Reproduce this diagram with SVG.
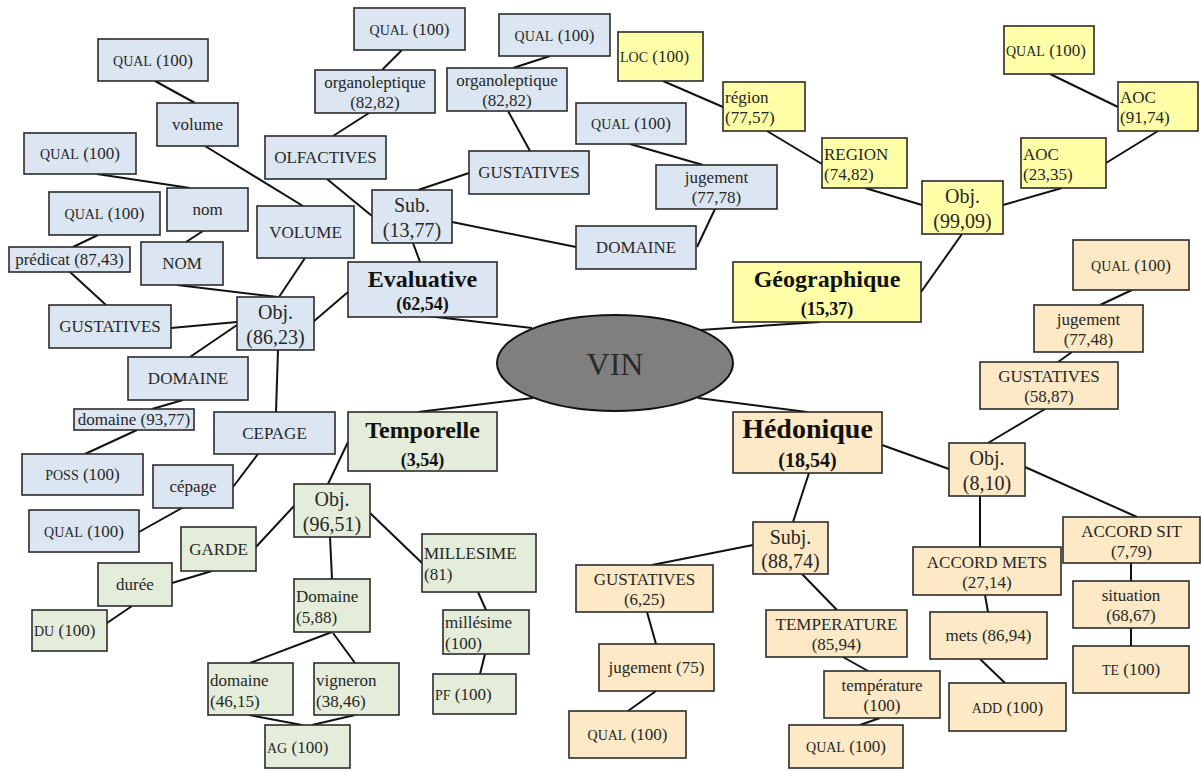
<svg xmlns="http://www.w3.org/2000/svg" width="1201" height="771" viewBox="0 0 1201 771">
<style>
rect{stroke:#2b2b2b;stroke-width:1.6}
.b{fill:#dce6f2}.y{fill:#ffffa8}.g{fill:#e3edda}.o{fill:#fde9c5}
text{font-family:"Liberation Serif","Times New Roman",serif;font-size:17px;fill:#262626}
.c{text-anchor:middle}
.s{font-size:14px}
.m{font-size:20px}
.h{font-weight:bold;font-size:24px;fill:#111}
.hs{font-weight:bold;font-size:18px;fill:#111}
#conn line{stroke:#111;stroke-width:2}
</style>
<rect width="1201" height="771" fill="#ffffff" style="stroke:none"/>
<g id="conn">
<line x1="155" y1="81" x2="195" y2="103"/>
<line x1="205" y1="146" x2="303" y2="206"/>
<line x1="97" y1="174" x2="190" y2="188"/>
<line x1="98" y1="235" x2="73" y2="247"/>
<line x1="203" y1="231" x2="186" y2="242"/>
<line x1="333" y1="136" x2="369" y2="113"/>
<line x1="382" y1="70" x2="402" y2="50"/>
<line x1="327" y1="179" x2="372" y2="216"/>
<line x1="305" y1="258" x2="279" y2="297"/>
<line x1="177" y1="285" x2="278" y2="297"/>
<line x1="313" y1="322" x2="348" y2="292"/>
<line x1="413" y1="243" x2="420" y2="262"/>
<line x1="418" y1="190" x2="469" y2="173"/>
<line x1="452" y1="222" x2="576" y2="247"/>
<line x1="530" y1="151" x2="508" y2="111"/>
<line x1="513" y1="68" x2="550" y2="56"/>
<line x1="630" y1="144" x2="703" y2="165"/>
<line x1="715" y1="209" x2="697" y2="247"/>
<line x1="427" y1="316" x2="532" y2="328"/>
<line x1="700" y1="330" x2="820" y2="322"/>
<line x1="533" y1="398" x2="418" y2="412"/>
<line x1="698" y1="398" x2="807" y2="412"/>
<line x1="921" y1="292" x2="962" y2="234"/>
<line x1="922" y1="205" x2="865" y2="188"/>
<line x1="822" y1="164" x2="767" y2="131"/>
<line x1="723" y1="107" x2="663" y2="81"/>
<line x1="1003" y1="205" x2="1062" y2="188"/>
<line x1="1106" y1="163" x2="1158" y2="131"/>
<line x1="1118" y1="107" x2="1050" y2="74"/>
<line x1="882" y1="445" x2="949" y2="469"/>
<line x1="988" y1="443" x2="1045" y2="409"/>
<line x1="1058" y1="362" x2="1072" y2="352"/>
<line x1="1100" y1="305" x2="1132" y2="290"/>
<line x1="1025" y1="467" x2="1137" y2="517"/>
<line x1="980" y1="496" x2="980" y2="547"/>
<line x1="985" y1="595" x2="988" y2="612"/>
<line x1="980" y1="659" x2="1005" y2="683"/>
<line x1="1131" y1="563" x2="1131" y2="581"/>
<line x1="1131" y1="628" x2="1131" y2="646"/>
<line x1="809" y1="473" x2="793" y2="522"/>
<line x1="753" y1="545" x2="652" y2="565"/>
<line x1="647" y1="612" x2="656" y2="644"/>
<line x1="656" y1="691" x2="628" y2="711"/>
<line x1="802" y1="574" x2="837" y2="610"/>
<line x1="843" y1="657" x2="868" y2="671"/>
<line x1="880" y1="718" x2="860" y2="725"/>
<line x1="348" y1="442" x2="328" y2="484"/>
<line x1="294" y1="506" x2="255" y2="548"/>
<line x1="212" y1="571" x2="172" y2="583"/>
<line x1="132" y1="606" x2="107" y2="623"/>
<line x1="330" y1="537" x2="332" y2="579"/>
<line x1="370" y1="513" x2="422" y2="563"/>
<line x1="478" y1="592" x2="486" y2="610"/>
<line x1="485" y1="654" x2="480" y2="674"/>
<line x1="332" y1="632" x2="250" y2="663"/>
<line x1="333" y1="633" x2="355" y2="663"/>
<line x1="249" y1="715" x2="302" y2="725"/>
<line x1="355" y1="715" x2="312" y2="725"/>
<line x1="171" y1="328" x2="237" y2="322"/>
<line x1="237" y1="325" x2="190" y2="357"/>
<line x1="278" y1="350" x2="276" y2="412"/>
<line x1="70" y1="272" x2="106" y2="305"/>
<line x1="183" y1="400" x2="152" y2="409"/>
<line x1="137" y1="430" x2="85" y2="454"/>
<line x1="258" y1="454" x2="233" y2="487"/>
<line x1="182" y1="508" x2="139" y2="532"/>
</g>
<g id="vin"><ellipse cx="615" cy="363" rx="118" ry="48" fill="#7f7f7f" stroke="#111" stroke-width="2"/><text x="615" y="375" class="c" style="font-size:32px;fill:#2a2a2a">VIN</text></g>
<!-- Evaluative (blue) -->
<g id="b1"><rect class="b" x="98" y="39" width="110" height="42"/><text x="153" y="66" class="c"><tspan class="s">QUAL</tspan> (100)</text></g>
<g id="b2"><rect class="b" x="157" y="103" width="81" height="43"/><text x="197.5" y="130" class="c">volume</text></g>
<g id="b3"><rect class="b" x="24" y="133" width="112" height="41"/><text x="80" y="159" class="c"><tspan class="s">QUAL</tspan> (100)</text></g>
<g id="b4"><rect class="b" x="167" y="188" width="81" height="43"/><text x="207.5" y="215" class="c">nom</text></g>
<g id="b5"><rect class="b" x="49" y="192" width="111" height="43"/><text x="104.5" y="219" class="c"><tspan class="s">QUAL</tspan> (100)</text></g>
<g id="b6"><rect class="b" x="257" y="206" width="97" height="52"/><text x="305.5" y="238" class="c">VOLUME</text></g>
<g id="b7"><rect class="b" x="265" y="136" width="121" height="43"/><text x="325.5" y="163" class="c">OLFACTIVES</text></g>
<g id="b8"><rect class="b" x="315" y="70" width="120" height="43"/><text x="375" y="88" class="c">organoleptique</text><text x="375" y="108" class="c">(82,82)</text></g>
<g id="b9"><rect class="b" x="354" y="8" width="111" height="42"/><text x="409.5" y="35" class="c"><tspan class="s">QUAL</tspan> (100)</text></g>
<g id="b10"><rect class="b" x="372" y="190" width="80" height="53"/><text x="412" y="212" class="c m">Sub.</text><text x="412" y="237" class="c m">(13,77)</text></g>
<g id="b11"><rect class="b" x="348" y="262" width="149" height="55"/><text x="422.5" y="287" class="c h">Evaluative</text><text x="422.5" y="310" class="c hs">(62,54)</text></g>
<g id="b12"><rect class="b" x="237" y="297" width="77" height="53"/><text x="275.5" y="319" class="c m">Obj.</text><text x="275.5" y="344" class="c m">(86,23)</text></g>
<g id="b13"><rect class="b" x="9" y="247" width="121" height="25"/><text x="69.5" y="265" class="c">prédicat (87,43)</text></g>
<g id="b14"><rect class="b" x="141" y="242" width="82" height="43"/><text x="182" y="269" class="c">NOM</text></g>
<g id="b15"><rect class="b" x="49" y="305" width="122" height="43"/><text x="110" y="332" class="c">GUSTATIVES</text></g>
<g id="b16"><rect class="b" x="128" y="357" width="120" height="43"/><text x="188" y="384" class="c">DOMAINE</text></g>
<g id="b17"><rect class="b" x="74" y="409" width="120" height="21"/><text x="134" y="425" class="c">domaine (93,77)</text></g>
<g id="b18"><rect class="b" x="214" y="412" width="121" height="42"/><text x="274.5" y="439" class="c">CEPAGE</text></g>
<g id="b19"><rect class="b" x="22" y="454" width="121" height="41"/><text x="82.5" y="480" class="c"><tspan class="s">POSS</tspan> (100)</text></g>
<g id="b20"><rect class="b" x="153" y="465" width="80" height="43"/><text x="193" y="492" class="c">cépage</text></g>
<g id="b21"><rect class="b" x="29" y="510" width="110" height="42"/><text x="84" y="537" class="c"><tspan class="s">QUAL</tspan> (100)</text></g>
<g id="b22"><rect class="b" x="499" y="14" width="111" height="42"/><text x="554.5" y="41" class="c"><tspan class="s">QUAL</tspan> (100)</text></g>
<g id="b23"><rect class="b" x="447" y="68" width="120" height="43"/><text x="507" y="86" class="c">organoleptique</text><text x="507" y="106" class="c">(82,82)</text></g>
<g id="b24"><rect class="b" x="469" y="151" width="120" height="43"/><text x="529" y="178" class="c">GUSTATIVES</text></g>
<g id="b25"><rect class="b" x="576" y="103" width="110" height="41"/><text x="631" y="129" class="c"><tspan class="s">QUAL</tspan> (100)</text></g>
<g id="b26"><rect class="b" x="656" y="165" width="121" height="44"/><text x="716.5" y="183" class="c">jugement</text><text x="716.5" y="203" class="c">(77,78)</text></g>
<g id="b27"><rect class="b" x="576" y="226" width="120" height="43"/><text x="636" y="253" class="c">DOMAINE</text></g>
<!-- Géographique (yellow) -->
<g id="y1"><rect class="y" x="733" y="262" width="188" height="60"/><text x="827" y="287" class="c h">Géographique</text><text x="827" y="315" class="c hs">(15,37)</text></g>
<g id="y2"><rect class="y" x="922" y="181" width="81" height="53"/><text x="962.5" y="203" class="c m">Obj.</text><text x="962.5" y="228" class="c m">(99,09)</text></g>
<g id="y3"><rect class="y" x="822" y="138" width="85" height="50"/><text x="824" y="160">REGION</text><text x="824" y="180">(74,82)</text></g>
<g id="y4"><rect class="y" x="723" y="82" width="82" height="49"/><text x="725" y="103">région</text><text x="725" y="123">(77,57)</text></g>
<g id="y5"><rect class="y" x="618" y="32" width="85" height="49"/><text x="620" y="62"><tspan class="s">LOC</tspan> (100)</text></g>
<g id="y6"><rect class="y" x="1021" y="138" width="85" height="50"/><text x="1023" y="160">AOC</text><text x="1023" y="180">(23,35)</text></g>
<g id="y7"><rect class="y" x="1118" y="82" width="80" height="49"/><text x="1120" y="103">AOC</text><text x="1120" y="123">(91,74)</text></g>
<g id="y8"><rect class="y" x="1004" y="26" width="90" height="48"/><text x="1006" y="56"><tspan class="s">QUAL</tspan> (100)</text></g>
<!-- Temporelle (green) -->
<g id="g1"><rect class="g" x="348" y="412" width="149" height="59"/><text x="422.5" y="438" class="c h">Temporelle</text><text x="422.5" y="466" class="c hs">(3,54)</text></g>
<g id="g2"><rect class="g" x="294" y="484" width="76" height="53"/><text x="332" y="506" class="c m">Obj.</text><text x="332" y="531" class="c m">(96,51)</text></g>
<g id="g3"><rect class="g" x="181" y="527" width="75" height="44"/><text x="218.5" y="555" class="c">GARDE</text></g>
<g id="g4"><rect class="g" x="98" y="563" width="74" height="43"/><text x="135" y="590" class="c">durée</text></g>
<g id="g5"><rect class="g" x="32" y="610" width="75" height="41"/><text x="34" y="636"><tspan class="s">DU</tspan> (100)</text></g>
<g id="g6"><rect class="g" x="294" y="579" width="76" height="53"/><text x="296" y="602">Domaine</text><text x="296" y="623">(5,88)</text></g>
<g id="g7"><rect class="g" x="208" y="663" width="85" height="52"/><text x="210" y="686">domaine</text><text x="210" y="707">(46,15)</text></g>
<g id="g8"><rect class="g" x="314" y="663" width="85" height="52"/><text x="316" y="686">vigneron</text><text x="316" y="707">(38,46)</text></g>
<g id="g9"><rect class="g" x="265" y="725" width="85" height="43"/><text x="267" y="753"><tspan class="s">AG</tspan> (100)</text></g>
<g id="g10"><rect class="g" x="422" y="534" width="114" height="58"/><text x="424" y="559">MILLESIME</text><text x="424" y="580">(81)</text></g>
<g id="g11"><rect class="g" x="443" y="610" width="86" height="44"/><text x="445" y="628">millésime</text><text x="445" y="649">(100)</text></g>
<g id="g12"><rect class="g" x="433" y="674" width="83" height="40"/><text x="435" y="700"><tspan class="s">PF</tspan> (100)</text></g>
<!-- Hédonique (orange) -->
<g id="o1"><rect class="o" x="733" y="412" width="149" height="61"/><text x="807.5" y="438" class="c h" style="font-size:28px">Hédonique</text><text x="807.5" y="467" class="c hs" style="font-size:20px">(18,54)</text></g>
<g id="o2"><rect class="o" x="949" y="443" width="76" height="53"/><text x="987" y="465" class="c m">Obj.</text><text x="987" y="490" class="c m">(8,10)</text></g>
<g id="o3"><rect class="o" x="980" y="362" width="138" height="47"/><text x="1049" y="382" class="c">GUSTATIVES</text><text x="1049" y="402" class="c">(58,87)</text></g>
<g id="o4"><rect class="o" x="1034" y="305" width="109" height="47"/><text x="1088.5" y="325" class="c">jugement</text><text x="1088.5" y="345" class="c">(77,48)</text></g>
<g id="o5"><rect class="o" x="1073" y="240" width="116" height="50"/><text x="1131" y="271" class="c"><tspan class="s">QUAL</tspan> (100)</text></g>
<g id="o6"><rect class="o" x="1063" y="517" width="137" height="46"/><text x="1131.5" y="537" class="c">ACCORD SIT</text><text x="1131.5" y="557" class="c">(7,79)</text></g>
<g id="o7"><rect class="o" x="1073" y="581" width="116" height="47"/><text x="1131" y="601" class="c">situation</text><text x="1131" y="621" class="c">(68,67)</text></g>
<g id="o8"><rect class="o" x="1073" y="646" width="116" height="47"/><text x="1131" y="675" class="c"><tspan class="s">TE</tspan> (100)</text></g>
<g id="o9"><rect class="o" x="913" y="547" width="148" height="48"/><text x="987" y="568" class="c">ACCORD METS</text><text x="987" y="588" class="c">(27,14)</text></g>
<g id="o10"><rect class="o" x="930" y="612" width="117" height="47"/><text x="988.5" y="641" class="c">mets (86,94)</text></g>
<g id="o11"><rect class="o" x="949" y="683" width="117" height="48"/><text x="1007.5" y="713" class="c"><tspan class="s">ADD</tspan> (100)</text></g>
<g id="o12"><rect class="o" x="753" y="522" width="75" height="52"/><text x="790.5" y="544" class="c m">Subj.</text><text x="790.5" y="568" class="c m">(88,74)</text></g>
<g id="o13"><rect class="o" x="576" y="565" width="137" height="47"/><text x="644.5" y="585" class="c">GUSTATIVES</text><text x="644.5" y="605" class="c">(6,25)</text></g>
<g id="o14"><rect class="o" x="599" y="644" width="115" height="47"/><text x="656.5" y="673" class="c">jugement (75)</text></g>
<g id="o15"><rect class="o" x="569" y="711" width="117" height="47"/><text x="627.5" y="740" class="c"><tspan class="s">QUAL</tspan> (100)</text></g>
<g id="o16"><rect class="o" x="766" y="610" width="141" height="47"/><text x="836.5" y="630" class="c">TEMPERATURE</text><text x="836.5" y="650" class="c">(85,94)</text></g>
<g id="o17"><rect class="o" x="824" y="671" width="116" height="47"/><text x="882" y="691" class="c">température</text><text x="882" y="711" class="c">(100)</text></g>
<g id="o18"><rect class="o" x="789" y="725" width="114" height="43"/><text x="846" y="752" class="c"><tspan class="s">QUAL</tspan> (100)</text></g>
</svg>
